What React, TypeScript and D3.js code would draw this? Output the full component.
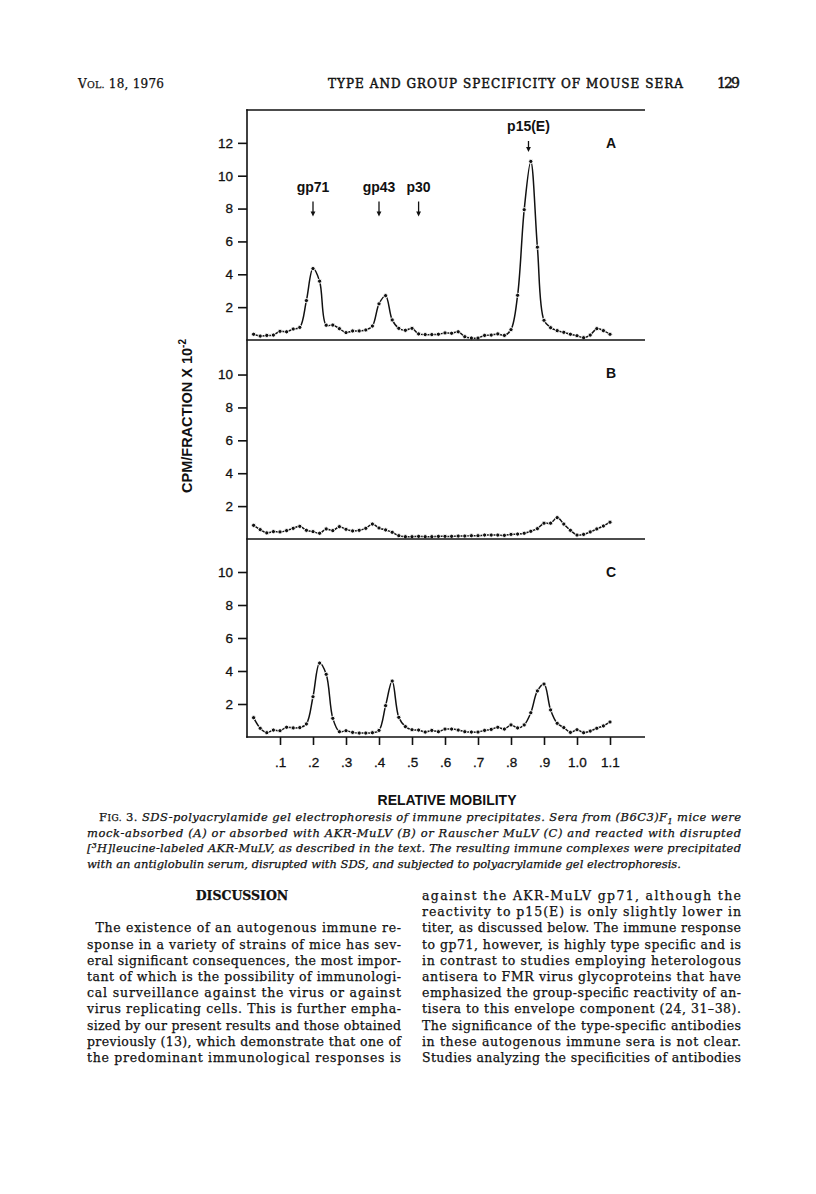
import * as d3 from 'd3';
import { useEffect, useRef } from 'react';

const width = 816;
const height = 1194;

// relative mobility of each gel fraction
const mobility = [
  0.02, 0.04, 0.06, 0.08, 0.1, 0.12, 0.14, 0.16, 0.18, 0.2,
  0.22, 0.24, 0.26, 0.28, 0.3, 0.32, 0.34, 0.36, 0.38, 0.4,
  0.42, 0.44, 0.46, 0.48, 0.5, 0.52, 0.54, 0.56, 0.58, 0.6,
  0.62, 0.64, 0.66, 0.68, 0.7, 0.72, 0.74, 0.76, 0.78, 0.8,
  0.82, 0.84, 0.86, 0.88, 0.9, 0.92, 0.94, 0.96, 0.98, 1.0,
  1.02, 1.04, 1.06, 1.08, 1.1,
];

// CPM/fraction x 10^-2, mock-absorbed
const panelA = [
  0.35, 0.24, 0.28, 0.3, 0.53, 0.5, 0.67, 0.77, 2.4, 4.35,
  3.58, 0.9, 0.91, 0.69, 0.45, 0.55, 0.55, 0.61, 0.85, 2.2,
  2.7, 1.22, 0.71, 0.59, 0.71, 0.37, 0.33, 0.33, 0.35, 0.43,
  0.41, 0.5, 0.2, 0.12, 0.12, 0.28, 0.3, 0.37, 0.28, 0.63,
  2.72, 7.93, 10.87, 5.65, 1.2, 0.75, 0.57, 0.47, 0.35, 0.26,
  0.14, 0.3, 0.69, 0.57, 0.35,
];

// absorbed with AKR-MuLV
const panelB = [
  0.83, 0.57, 0.37, 0.45, 0.43, 0.51, 0.65, 0.77, 0.53, 0.45,
  0.35, 0.61, 0.51, 0.75, 0.59, 0.49, 0.53, 0.65, 0.91, 0.67,
  0.55, 0.41, 0.2, 0.14, 0.14, 0.16, 0.14, 0.14, 0.16, 0.16,
  0.16, 0.18, 0.18, 0.2, 0.2, 0.24, 0.24, 0.24, 0.22, 0.28,
  0.3, 0.35, 0.47, 0.63, 0.96, 0.96, 1.3, 0.91, 0.53, 0.24,
  0.28, 0.43, 0.61, 0.79, 1.02,
];

// absorbed with Rauscher MuLV
const panelC = [
  1.17, 0.53, 0.26, 0.42, 0.38, 0.59, 0.55, 0.57, 0.79, 2.44,
  4.48, 3.8, 1.13, 0.32, 0.38, 0.28, 0.24, 0.24, 0.26, 0.4,
  1.9, 3.39, 1.19, 0.63, 0.44, 0.42, 0.3, 0.4, 0.32, 0.48,
  0.48, 0.42, 0.32, 0.3, 0.3, 0.4, 0.46, 0.59, 0.48, 0.73,
  0.55, 0.73, 1.47, 2.79, 3.21, 1.64, 0.83, 0.57, 0.28, 0.44,
  0.26, 0.36, 0.53, 0.67, 0.91,
];

const panelLetters = ['A', 'B', 'C'];
const yTicksA = [2, 4, 6, 8, 10, 12];
const yTicksBC = [2, 4, 6, 8, 10];
const xTicks = [0.1, 0.2, 0.3, 0.4, 0.5, 0.6, 0.7, 0.8, 0.9, 1.0, 1.1];
const xTickLabels = ['.1', '.2', '.3', '.4', '.5', '.6', '.7', '.8', '.9', '1.0', '1.1'];

const peakNames = ['gp71', 'gp43', 'p30', 'p15(E)'];
const peakMobility = [0.2, 0.4, 0.52, 0.853];

const captionMid = [
  'mock-absorbed (A) or absorbed with AKR-MuLV (B) or Rauscher MuLV (C) and reacted with disrupted',
];
const captionLast = 'with an antiglobulin serum, disrupted with SDS, and subjected to polyacrylamide gel electrophoresis.';

const leftColumn = [
  'The existence of an autogenous immune re-',
  'sponse in a variety of strains of mice has sev-',
  'eral significant consequences, the most impor-',
  'tant of which is the possibility of immunologi-',
  'cal surveillance against the virus or against',
  'virus replicating cells. This is further empha-',
  'sized by our present results and those obtained',
  'previously (13), which demonstrate that one of',
  'the predominant immunological responses is',
];

const rightColumn = [
  'against the AKR-MuLV gp71, although the',
  'reactivity to p15(E) is only slightly lower in',
  'titer, as discussed below. The immune response',
  'to gp71, however, is highly type specific and is',
  'in contrast to studies employing heterologous',
  'antisera to FMR virus glycoproteins that have',
  'emphasized the group-specific reactivity of an-',
  'tisera to this envelope component (24, 31\u201338).',
  'The significance of the type-specific antibodies',
  'in these autogenous immune sera is not clear.',
  'Studies analyzing the specificities of antibodies',
];

const sans = "'Liberation Sans', Arial, Helvetica, sans-serif";
const serif = "'DejaVu Serif', 'Liberation Serif', serif";

const App = () => {
  const svgRef = useRef(null);

  useEffect(() => {
    const svg = d3.select(svgRef.current);
    svg.selectAll('*').remove();
    svg.append('rect').attr('width', width).attr('height', height).attr('fill', '#fff');

    const left = 247;
    const right = 645;
    const x = d3.scaleLinear().domain([0, 1]).range([left, 577]);

    const panels = [
      { values: panelA, ticks: yTicksA, top: 110, bottom: 340, max: 14 },
      { values: panelB, ticks: yTicksBC, top: 340, bottom: 539, max: 12.1 },
      { values: panelC, ticks: yTicksBC, top: 539, bottom: 737, max: 12 },
    ];

    const chart = svg.append('g');

    panels.forEach((p, k) => {
      const y = d3.scaleLinear().domain([0, p.max]).range([p.bottom, p.top]);

      // y axis ticks
      const axis = chart
        .append('g')
        .attr('transform', `translate(${left},0)`)
        .call(d3.axisLeft(y).tickValues(p.ticks).tickSize(9).tickPadding(5));
      axis.select('.domain').remove();
      axis.selectAll('line').attr('stroke', '#111').attr('stroke-width', 1.6);
      axis
        .selectAll('text')
        .attr('fill', '#111')
        .attr('stroke', '#111')
        .attr('stroke-width', 0.3)
        .style('font-family', sans)
        .style('font-size', '13.5px');

      const pts = mobility.map((m, i) => [m, p.values[i]]);
      const line = d3
        .line()
        .x((d) => x(d[0]))
        .y((d) => y(d[1]))
        .curve(d3.curveCatmullRom.alpha(0.5));

      chart
        .append('path')
        .attr('d', line(pts))
        .attr('fill', 'none')
        .attr('stroke', '#111')
        .attr('stroke-width', 1.5);

      chart
        .append('g')
        .selectAll('circle')
        .data(pts)
        .enter()
        .append('circle')
        .attr('cx', (d) => x(d[0]))
        .attr('cy', (d) => y(d[1]))
        .attr('r', 2.1)
        .attr('fill', '#111')
        .attr('stroke', '#fff')
        .attr('stroke-width', 0.9);

      chart
        .append('text')
        .attr('x', 611)
        .attr('y', p.top + 38)
        .attr('text-anchor', 'middle')
        .text(panelLetters[k])
        .style('font-family', sans)
        .style('font-weight', 'bold')
        .style('font-size', '14px')
        .attr('fill', '#111');

      if (k === 0) {
        // protein markers
        peakNames.forEach((name, j) => {
          const px = x(peakMobility[j]);
          const base = name === 'p15(E)' ? 131 : 191.5;
          const len = name === 'p15(E)' ? 11 : 15;
          chart
            .append('text')
            .attr('x', px)
            .attr('y', base)
            .attr('text-anchor', 'middle')
            .text(name)
            .style('font-family', sans)
            .style('font-weight', 'bold')
            .style('font-size', '14px')
            .attr('fill', '#111');
          chart
            .append('line')
            .attr('x1', px)
            .attr('x2', px)
            .attr('y1', base + 10)
            .attr('y2', base + 10 + len - 3)
            .attr('stroke', '#111')
            .attr('stroke-width', 1.3);
          chart
            .append('path')
            .attr(
              'd',
              `M${px - 2.4},${base + 10 + len - 5}L${px + 2.4},${base + 10 + len - 5}L${px},${base + 10 + len}Z`
            )
            .attr('fill', '#111');
        });
      }
    });

    // frame
    [110, 340, 539, 737].forEach((yy) => {
      chart
        .append('line')
        .attr('x1', left - 0.8)
        .attr('x2', right)
        .attr('y1', yy)
        .attr('y2', yy)
        .attr('stroke', '#111')
        .attr('stroke-width', 1.6);
    });
    chart
      .append('line')
      .attr('x1', left)
      .attr('x2', left)
      .attr('y1', 109.2)
      .attr('y2', 737.8)
      .attr('stroke', '#111')
      .attr('stroke-width', 1.6);

    // x axis
    const xAxis = chart
      .append('g')
      .attr('transform', 'translate(0,737)')
      .call(
        d3
          .axisBottom(x)
          .tickValues(xTicks)
          .tickFormat((d, i) => xTickLabels[i])
          .tickSize(8)
          .tickPadding(12)
      );
    xAxis.select('.domain').remove();
    xAxis.selectAll('line').attr('stroke', '#111').attr('stroke-width', 1.6);
    xAxis
      .selectAll('text')
      .attr('fill', '#111')
      .attr('stroke', '#111')
      .attr('stroke-width', 0.3)
      .style('font-family', sans)
      .style('font-size', '13.5px');

    chart
      .append('text')
      .attr('x', 447)
      .attr('y', 805)
      .attr('text-anchor', 'middle')
      .text('RELATIVE MOBILITY')
      .style('font-family', sans)
      .style('font-weight', 'bold')
      .style('font-size', '14px')
      .attr('fill', '#111');

    const yTitle = chart
      .append('text')
      .attr('transform', 'translate(191.5,416) rotate(-90)')
      .attr('text-anchor', 'middle')
      .style('font-family', sans)
      .style('font-weight', 'bold')
      .style('font-size', '14.5px')
      .attr('fill', '#111');
    yTitle.append('tspan').text('CPM/FRACTION X 10');
    yTitle.append('tspan').attr('dy', -6).style('font-size', '10px').text('-2');

    // running head
    const page = svg
      .append('g')
      .attr('fill', '#111')
      .attr('stroke', '#111')
      .attr('stroke-width', 0.25)
      .style('font-family', serif);
    const vol = page.append('text').attr('x', 78).attr('y', 88).attr('textLength', 86).attr('lengthAdjust', 'spacing');
    vol.append('tspan').style('font-size', '12px').text('V');
    vol.append('tspan').style('font-size', '9.5px').text('OL.');
    vol.append('tspan').style('font-size', '12px').text(' 18, 1976');
    page
      .append('text')
      .attr('x', 328)
      .attr('y', 88)
      .attr('textLength', 355)
      .attr('lengthAdjust', 'spacing')
      .attr('stroke-width', 0.45)
      .style('font-size', '12px')
      .text('TYPE AND GROUP SPECIFICITY OF MOUSE SERA');
    page
      .append('text')
      .attr('x', 717)
      .attr('y', 88)
      .attr('textLength', 23)
      .attr('lengthAdjust', 'spacing')
      .attr('stroke-width', 0.45)
      .style('font-size', '14px')
      .text('129');

    // figure caption
    const cap = page.append('g').style('font-size', '11.5px');
    const c1 = cap
      .append('text')
      .attr('x', 99)
      .attr('y', 821)
      .attr('textLength', 642)
      .attr('lengthAdjust', 'spacing');
    c1.append('tspan').text('F');
    c1.append('tspan').style('font-size', '9px').text('IG.');
    c1.append('tspan').text(' 3. ');
    c1.append('tspan')
      .style('font-style', 'italic')
      .text('SDS-polyacrylamide gel electrophoresis of immune precipitates. Sera from (B6C3)F');
    c1.append('tspan').attr('dy', 3).style('font-size', '8px').style('font-style', 'italic').text('1');
    c1.append('tspan').attr('dy', -3).style('font-style', 'italic').text(' mice were');

    captionMid.forEach((t) => {
      cap
        .append('text')
        .attr('x', 87)
        .attr('y', 836.5)
        .attr('textLength', 654)
        .attr('lengthAdjust', 'spacing')
        .style('font-style', 'italic')
        .text(t);
    });

    const c3 = cap
      .append('text')
      .attr('x', 87)
      .attr('y', 852)
      .attr('textLength', 654)
      .attr('lengthAdjust', 'spacing')
      .style('font-style', 'italic');
    c3.append('tspan').text('[');
    c3.append('tspan').attr('dy', -4).style('font-size', '8px').text('3');
    c3.append('tspan')
      .attr('dy', 4)
      .text('H]leucine-labeled AKR-MuLV, as described in the text. The resulting immune complexes were precipitated');

    cap
      .append('text')
      .attr('x', 87)
      .attr('y', 867.5)
      .style('font-style', 'italic')
      .text(captionLast);

    // body text
    const body = page.append('g').style('font-size', '12.5px');
    body
      .append('text')
      .attr('x', 242)
      .attr('y', 900)
      .attr('text-anchor', 'middle')
      .style('font-weight', 'bold')
      .style('font-size', '12.5px')
      .text('DISCUSSION');

    leftColumn.forEach((t, i) => {
      const x0 = i === 0 ? 95.5 : 87;
      body
        .append('text')
        .attr('x', x0)
        .attr('y', 932.4 + i * 16.2)
        .attr('textLength', 401 - x0)
        .attr('lengthAdjust', 'spacing')
        .text(t);
    });

    rightColumn.forEach((t, i) => {
      body
        .append('text')
        .attr('x', 422)
        .attr('y', 900 + i * 16.2)
        .attr('textLength', 319)
        .attr('lengthAdjust', 'spacing')
        .text(t);
    });
  }, []);

  return (
    <svg
      ref={svgRef}
      width={width}
      height={height}
      style={{ position: 'absolute', left: 0, top: 0 }}
    ></svg>
  );
};

export default App;
